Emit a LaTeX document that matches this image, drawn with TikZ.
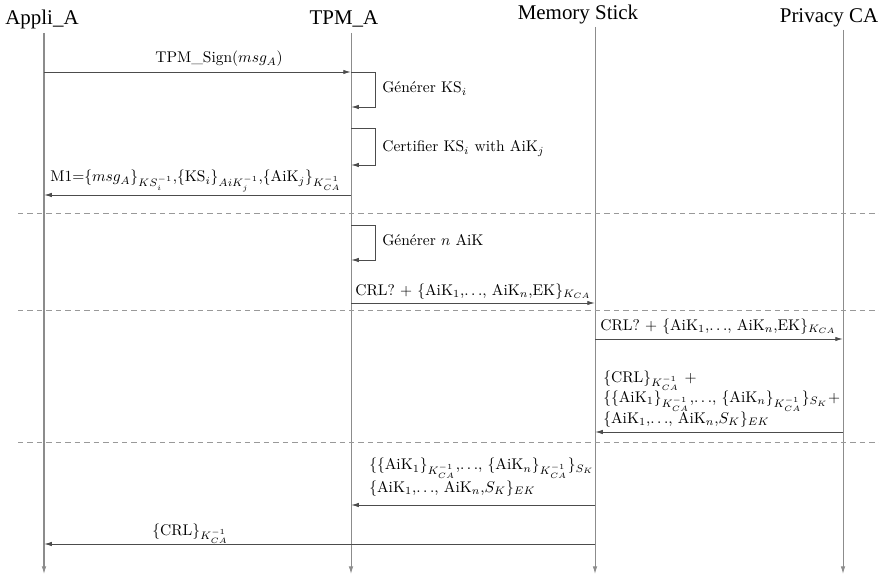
\documentclass[tikz,border=0pt]{standalone}
\usepackage{fontspec}
\newfontfamily\hdrfont{Liberation Serif}
\usetikzlibrary{arrows.meta}
\newcommand\tightlines{\lineskiplimit=-100pt\relax\lineskip=0pt\relax}
\begin{document}
\begin{tikzpicture}[x=0.645pt,y=-0.645pt,
 life/.style={draw=black!45, line width=0.65pt, -{Latex[length=5pt,width=3pt]}},
 msg/.style={draw=black!70, line width=0.6pt, -{Latex[length=5pt,width=2.8pt]}},
 sep/.style={draw=black!40, line width=0.6pt, dash pattern=on 3.5pt off 2.6pt},
 hdr/.style={font=\hdrfont\fontsize{13.5}{16}\selectfont, anchor=base, inner sep=0pt},
 lbl/.style={anchor=base west, inner sep=0pt, font=\fontsize{10}{12}\selectfont},
 mlbla/.style={lbl, align=left, font=\fontsize{10}{13.2}\selectfont\tightlines},
 mlblb/.style={lbl, align=left, font=\fontsize{10}{14.2}\selectfont\tightlines},
]
\useasboundingbox (0,0) rectangle (879,575);
% headers
\node[hdr] (appli) at (42,25) {Appli\_A};
\node[hdr] (tpm) at (344,25) {TPM\_A};
\node[hdr] (ms) at (578,20) {Memory Stick};
\node[hdr] (pca) at (829,23) {Privacy CA};
% lifelines
\coordinate (aT) at (44,33);  \coordinate (aB) at (44,574);
\coordinate (tT) at (351,33); \coordinate (tB) at (351,574);
\coordinate (mT) at (595,27); \coordinate (mB) at (595,574);
\coordinate (pT) at (843,30); \coordinate (pB) at (843,574);
\draw[life] (aT) -- (aB);
\draw[life] (tT) -- (tB);
\draw[life] (mT) -- (mB);
\draw[life] (pT) -- (pB);
% separators
\coordinate (s1L) at (18,213); \coordinate (s1R) at (879,213);
\coordinate (s2L) at (18,310); \coordinate (s2R) at (879,310);
\coordinate (s3L) at (18,442); \coordinate (s3R) at (879,442);
\draw[sep] (s1L) -- (s1R);
\draw[sep] (s2L) -- (s2R);
\draw[sep] (s3L) -- (s3R);
% message points
\coordinate (a1) at (44,72);   \coordinate (t1) at (351,72);
\coordinate (t1b) at (351,107);
\coordinate (t2) at (351,128); \coordinate (t2b) at (351,165);
\coordinate (t3) at (351,195); \coordinate (a3) at (44,195);
\coordinate (t4) at (351,225); \coordinate (t4b) at (351,260);
\coordinate (t5) at (351,303); \coordinate (m5) at (595,303);
\coordinate (m6) at (595,339); \coordinate (p6) at (843,339);
\coordinate (p7) at (843,432); \coordinate (m7) at (595,432);
\coordinate (m8) at (595,505); \coordinate (t8) at (351,505);
\coordinate (m9) at (595,544); \coordinate (a9) at (44,544);
% messages
\draw[msg] (a1) -- (t1);
\draw[msg] (t1) -- ++(24,0) |- (t1b);
\draw[msg] (t2) -- ++(24,0) |- (t2b);
\draw[msg] (t3) -- (a3);
\draw[msg] (t4) -- ++(24,0) |- (t4b);
\draw[msg] (t5) -- (m5);
\draw[msg] (m6) -- (p6);
\draw[msg] (p7) -- (m7);
\draw[msg] (m8) -- (t8);
\draw[msg] (m9) -- (a9);
% labels
\node[lbl] (l1) at (155,63) {TPM\_Sign($msg_A$)};
\node[lbl] (l2) at (382,93) {Générer KS$_i$};
\node[lbl] (l3) at (382,152) {Certifier KS$_i$ with AiK$_j$};
\node[lbl] (l4) at (50,182) {M1=$\{msg_A\}_{KS_i^{-1}}$,$\{$KS$_i\}_{AiK_j^{-1}}$,$\{$AiK$_j\}_{K_{CA}^{-1}}$};
\node[lbl] (l5) at (382,245) {Générer $n$ AiK};
\node[lbl] (l6) at (355,295) {CRL? $+$ $\{$AiK$_1$,$\ldots$, AiK$_n$,EK$\}_{K_{CA}}$};
\node[lbl] (l7) at (600,330) {CRL? $+$ $\{$AiK$_1$,$\ldots$, AiK$_n$,EK$\}_{K_{CA}}$};
\node[mlbla] (l8) at (603,423) {$\{$CRL$\}_{K_{CA}^{-1}}$ $+$\\
$\{\{$AiK$_1\}_{K_{CA}^{-1}}$,$\ldots$, $\{$AiK$_n\}_{K_{CA}^{-1}}\}_{S_K}+$\\
$\{$AiK$_1$,$\ldots$, AiK$_n$,$S_K\}_{EK}$};
\node[mlblb] (l9) at (369,492) {$\{\{$AiK$_1\}_{K_{CA}^{-1}}$,$\ldots$, $\{$AiK$_n\}_{K_{CA}^{-1}}\}_{S_K}$\\
$\{$AiK$_1$,$\ldots$, AiK$_n$,$S_K\}_{EK}$};
\node[lbl] (l10) at (152,535) {$\{$CRL$\}_{K_{CA}^{-1}}$};
\end{tikzpicture}
\end{document}
